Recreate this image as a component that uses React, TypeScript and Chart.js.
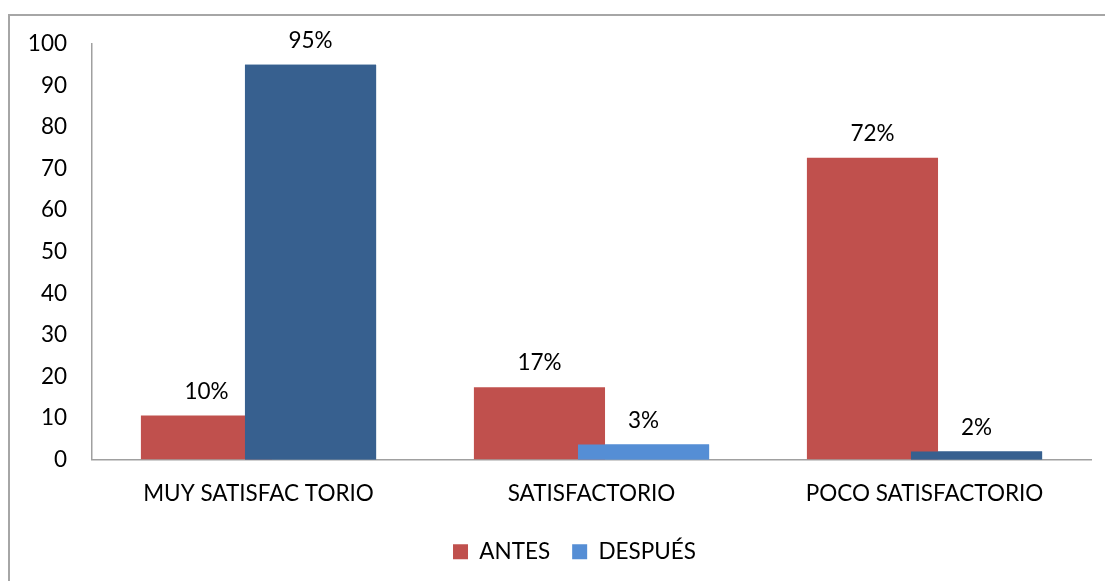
import React, { useEffect, useRef } from "react";
import { Chart, registerables } from "chart.js";

Chart.register(...registerables);

const categories = ["MUY SATISFAC TORIO", "SATISFACTORIO", "POCO SATISFACTORIO"];
const antesValues = [10.6, 17.4, 72.6];
const despuesValues = [95, 3.6, 1.9];
const antesLabels = ["10%", "17%", "72%"];
const despuesLabels = ["95%", "3%", "2%"];
const yTicks = [0, 10, 20, 30, 40, 50, 60, 70, 80, 90, 100];

const RED = "#C0504D";
const DARK_BLUE = "#37608F";
const LIGHT_BLUE = "#558ED5";
const despuesColors = [DARK_BLUE, LIGHT_BLUE, DARK_BLUE];
const legendColors = [RED, LIGHT_BLUE];

const FONT = "Lato, 'Open Sans', sans-serif";
const FS = 22.5;

export default function App() {
  const ref = useRef<HTMLCanvasElement | null>(null);

  useEffect(() => {
    if (!ref.current) return;

    const topBluePlugin = {
      id: "topBlue",
      afterDatasetsDraw(chart: any) {
        const meta = chart.getDatasetMeta(1);
        if (meta && meta.controller) meta.controller.draw();
      },
    };

    const legendShift = {
      id: "legendShift",
      afterLayout(chart: any) {
        if (chart.legend) {
          chart.legend.left += 29;
          chart.legend.right += 29;
        }
      },
    };

    const labelPlugin = {
      id: "barLabels",
      afterDatasetsDraw(chart: any) {
        const ctx = chart.ctx;
        const all = [antesLabels, despuesLabels];
        ctx.save();
        ctx.font = `${FS}px ${FONT}`;
        ctx.fillStyle = "#000";
        ctx.textAlign = "center";
        ctx.textBaseline = "middle";
        all.forEach((labels, di) => {
          const meta = chart.getDatasetMeta(di);
          meta.data.forEach((el: any, i: number) => {
            ctx.fillText(labels[i], el.x, el.y - 24);
          });
        });
        ctx.restore();
      },
    };

    const chart = new Chart(ref.current, {
      type: "bar",
      data: {
        labels: categories,
        datasets: [
          {
            label: "ANTES",
            data: antesValues,
            backgroundColor: RED,
            categoryPercentage: 0.625,
            barPercentage: 1.26,
          },
          {
            label: "DESPUÉS",
            data: despuesValues,
            backgroundColor: despuesColors,
            categoryPercentage: 0.625,
            barPercentage: 1.26,
          },
        ],
      },
      options: {
        animation: false,
        responsive: true,
        maintainAspectRatio: false,
        events: [],
        layout: { padding: { top: 44, right: 14, bottom: 8, left: 0 } },
        scales: {
          x: {
            grid: { display: false, drawTicks: false },
            border: { display: true, color: "#A0A0A0", width: 1.5 },
            ticks: {
              color: "#000",
              font: { family: FONT, size: FS },
              padding: 21,
              maxRotation: 0,
              autoSkip: false,
            },
            afterFit: (s: any) => {
              s.height = 59;
            },
          },
          y: {
            min: 0,
            max: 100,
            grid: { display: false, drawTicks: false },
            border: { display: true, color: "#A0A0A0", width: 1.5 },
            afterBuildTicks: (s: any) => {
              s.ticks = yTicks.map((v) => ({ value: v }));
            },
            ticks: {
              color: "#000",
              font: { family: FONT, size: FS },
              padding: 25,
            },
            afterFit: (s: any) => {
              s.width = 92;
            },
          },
        },
        plugins: {
          tooltip: { enabled: false },
          legend: {
            position: "bottom",
            labels: {
              color: "#000",
              font: { family: FONT, size: FS },
              boxWidth: 15,
              boxHeight: 15,
              padding: 22,
              generateLabels: (chart: any) => {
                const items = Chart.defaults.plugins.legend.labels.generateLabels(chart);
                return items.map((it: any, i: number) => ({
                  ...it,
                  fillStyle: legendColors[i],
                  strokeStyle: legendColors[i],
                  lineWidth: 0,
                }));
              },
            },
          },
        },
      },
      plugins: [topBluePlugin, labelPlugin, legendShift],
    } as any);

    return () => chart.destroy();
  }, []);

  return (
    <div
      style={{
        position: "fixed",
        left: 0,
        top: 0,
        width: 1105,
        height: 581,
        overflow: "hidden",
        background: "#fff",
      }}
    >
      <div
        style={{
          position: "absolute",
          left: 8,
          top: 14,
          width: 1200,
          height: 700,
          border: "2px solid #A6A6A6",
        }}
      />
      <div style={{ position: "absolute", left: 0, top: 0, width: 1105, height: 581 }}>
        <canvas ref={ref} />
      </div>
    </div>
  );
}
